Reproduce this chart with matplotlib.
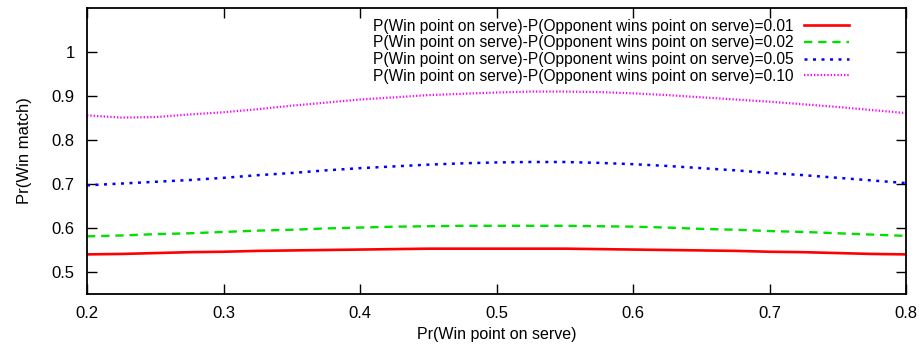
import matplotlib
matplotlib.use("Agg")
import matplotlib.pyplot as plt
from matplotlib.ticker import FormatStrFormatter

plt.rcParams['font.family'] = ['Liberation Sans', 'DejaVu Sans']

# serve win probability
p_serve = [0.200, 0.225, 0.250, 0.275, 0.300, 0.325, 0.350, 0.375, 0.400, 0.425, 0.450, 0.475, 0.500,
           0.525, 0.550, 0.575, 0.600, 0.625, 0.650, 0.675, 0.700, 0.725, 0.750, 0.775, 0.800]

# match win probability for each serve advantage
win_001 = [0.540, 0.541, 0.543, 0.545, 0.546, 0.548, 0.549, 0.550, 0.551, 0.552, 0.553, 0.553, 0.553,
           0.553, 0.553, 0.552, 0.551, 0.550, 0.549, 0.548, 0.546, 0.545, 0.543, 0.541, 0.540]
win_002 = [0.581, 0.583, 0.586, 0.588, 0.591, 0.594, 0.596, 0.599, 0.601, 0.603, 0.604, 0.605, 0.605,
           0.605, 0.605, 0.604, 0.603, 0.601, 0.598, 0.596, 0.593, 0.591, 0.588, 0.585, 0.582]
win_005 = [0.697, 0.701, 0.705, 0.709, 0.714, 0.720, 0.725, 0.731, 0.736, 0.740, 0.744, 0.747, 0.749,
           0.750, 0.750, 0.748, 0.745, 0.741, 0.736, 0.731, 0.725, 0.720, 0.714, 0.708, 0.702]
win_010 = [0.856, 0.851, 0.852, 0.858, 0.863, 0.870, 0.878, 0.885, 0.892, 0.897, 0.902, 0.905, 0.908,
           0.910, 0.910, 0.909, 0.906, 0.902, 0.897, 0.892, 0.887, 0.881, 0.875, 0.868, 0.861]

labels = ["P(Win point on serve)-P(Opponent wins point on serve)=0.01",
          "P(Win point on serve)-P(Opponent wins point on serve)=0.02",
          "P(Win point on serve)-P(Opponent wins point on serve)=0.05",
          "P(Win point on serve)-P(Opponent wins point on serve)=0.10"]

fig = plt.figure(figsize=(9.19, 3.49), dpi=100)
ax = fig.add_axes([0.0947, 0.1576, 0.8915, 0.8195])

ax.plot(p_serve, win_001, color="#ff0000", linewidth=1.9, linestyle="-", label=labels[0])
ax.plot(p_serve, win_002, color="#00e000", linewidth=1.7, linestyle=(0, (3.5, 2.5)), label=labels[1])
ax.plot(p_serve, win_005, color="#0000ff", linewidth=1.8, linestyle=(0, (1.2, 2.2)), label=labels[2])
ax.plot(p_serve, win_010, color="#ff00ff", linewidth=1.6, linestyle=(0, (0.6, 0.9)), label=labels[3])

ax.set_xlim(0.2, 0.8)
ax.set_ylim(0.45, 1.1)
ax.set_xticks([0.2, 0.3, 0.4, 0.5, 0.6, 0.7, 0.8])
ax.set_yticks([0.5, 0.6, 0.7, 0.8, 0.9, 1.0])
ax.yaxis.set_major_formatter(FormatStrFormatter('%g'))
ax.tick_params(direction="in", length=7, width=1, top=True, right=True,
               labelsize=12, pad=9)
for s in ax.spines.values():
    s.set_linewidth(1.3)

ax.set_xlabel("Pr(Win point on serve)", fontsize=11.5, labelpad=4)
ax.set_ylabel("Pr(Win match)", fontsize=12, labelpad=14)

ax.legend(loc="upper right", frameon=False, markerfirst=False, fontsize=11.2,
          handlelength=2.9, handletextpad=0.65, labelspacing=0.1,
          borderpad=0, borderaxespad=0, bbox_to_anchor=(0.930, 0.962))

fig.savefig("out.png", dpi=100)
